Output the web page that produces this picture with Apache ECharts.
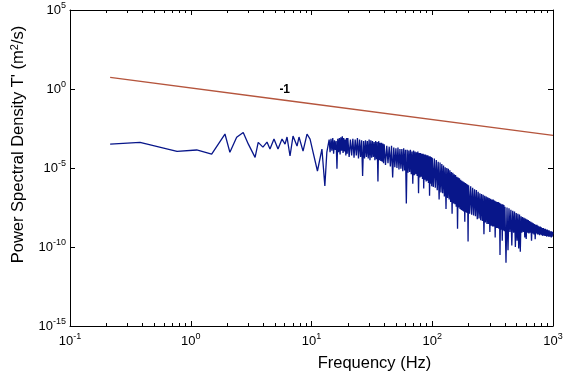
<!DOCTYPE html>
<html>
<head>
<meta charset="utf-8">
<script src="https://cdn.jsdelivr.net/npm/echarts@6/dist/echarts.min.js"></script>
<style>
  html, body { margin: 0; padding: 0; background: #ffffff; }
  #chart { width: 566px; height: 377px; }
</style>
</head>
<body>
<div id="chart"></div>
<script>
// Spectrum samples as [frequency (Hz), log10 PSD], split by frequency range
const specBelow14 = [
  [0.215, -3.49], [0.275, -3.44], [0.38, -3.38], [0.77, -3.95], [1.12, -3.86], [1.49, -4.12],
  [1.92, -2.85], [2.11, -4.01], [2.40, -3.06], [2.72, -2.75], [3.0, -3.49], [3.41, -4.33],
  [3.62, -3.38], [3.96, -3.68], [4.28, -3.36], [4.53, -3.80], [4.89, -3.17], [5.28, -3.80],
  [5.70, -3.17], [6.04, -3.49], [6.27, -3.04], [6.64, -4.24], [7.03, -2.98], [7.59, -3.61],
  [7.88, -3.04], [8.51, -3.93], [9.18, -2.85], [9.73, -3.17], [10.3, -3.99], [11.2, -5.19],
  [12.2, -3.80], [12.9, -6.14], [13.4, -3.99]
];
const spec14to20 = [
  [14, -3.2], [14.25, -4.0], [14.5, -3.15], [14.75, -3.9], [15, -3.1], [15.25, -4.1],
  [15.5, -3.25], [15.75, -3.85], [16, -3.3], [16.25, -5.05], [16.5, -3.15], [16.75, -4.0],
  [17, -3.1], [17.25, -4.15], [17.5, -3.05], [17.75, -3.9], [18, -3.0], [18.25, -4.05],
  [18.5, -3.1], [18.75, -3.95], [19, -3.2], [19.25, -4.2], [19.5, -3.1], [19.75, -4.1]
];
const spec20to40 = [
  [20, -3.1], [20.5, -4.3], [21, -3.2], [21.5, -4.2], [22, -3.15], [22.5, -4.35], [23, -3.2], [23.5, -4.2],
  [24, -3.1], [24.5, -4.4], [25, -3.2], [25.5, -4.3], [26, -3.25], [26.5, -5.5], [27, -3.3], [27.5, -4.4],
  [28, -3.25], [28.5, -4.3], [29, -3.3], [29.5, -4.4], [30, -3.2], [30.5, -4.5], [31, -3.25], [31.5, -4.35],
  [32, -3.3], [32.5, -4.3], [33, -3.35], [33.5, -4.5], [34, -3.3], [34.5, -4.45], [35, -3.35], [35.5, -5.85],
  [36, -3.3], [36.5, -4.5], [37, -3.4], [37.5, -4.55], [38, -3.4], [38.5, -4.6], [39, -3.45], [39.5, -4.7]
];
const spec40to100 = [
  [40, -3.5], [41, -4.8], [42, -3.6], [43, -4.7], [44, -3.65], [45, -4.9], [46, -3.6], [47, -5.6],
  [48, -3.7], [49, -4.95], [50, -3.75], [51, -5.0], [52, -3.7], [53, -5.1], [54, -3.8], [55, -5.05],
  [56, -3.8], [57, -5.2], [58, -3.75], [59, -5.15], [60, -3.85], [61, -7.25], [62, -3.85], [63, -5.3],
  [64, -3.9], [65, -5.25], [66, -3.85], [67, -5.4], [68, -3.95], [69, -6.0], [70, -3.9], [71, -5.45],
  [72, -3.95], [73, -5.4], [74, -4.0], [75, -5.5], [76, -3.95], [77, -6.6], [78, -4.05], [79, -5.6],
  [80, -4.05], [81, -5.55], [82, -4.1], [83, -5.7], [84, -4.1], [85, -6.3], [86, -4.15], [87, -5.75],
  [88, -4.15], [89, -5.85], [90, -4.2], [91, -5.8], [92, -4.2], [93, -5.95], [94, -4.25], [95, -6.75],
  [96, -4.25], [97, -6.0], [98, -4.3], [99, -6.15]
];
const spec100to200 = [
  [100, -4.35], [102, -6.2], [104, -4.4], [106, -6.25], [108, -4.5], [110, -6.4], [112, -4.6], [114, -7.0],
  [116, -4.65], [118, -6.55], [120, -4.75], [122, -6.6], [124, -4.85], [126, -6.8], [128, -4.95], [130, -7.6],
  [132, -5.0], [134, -6.9], [136, -5.05], [138, -7.0], [140, -5.15], [142, -7.15], [144, -5.25], [146, -7.9],
  [148, -5.3], [150, -7.25], [152, -5.4], [154, -7.3], [156, -5.45], [158, -7.45], [160, -5.55], [162, -8.85],
  [164, -5.6], [166, -7.5], [168, -5.65], [170, -7.6], [172, -5.75], [174, -7.65], [176, -5.8], [178, -7.7],
  [180, -5.85], [182, -7.75], [184, -5.9], [186, -8.4], [188, -5.95], [190, -7.8], [192, -6.0], [194, -7.85],
  [196, -6.05], [198, -9.65]
];
const spec200to400 = [
  [200, -6.1], [204, -7.9], [208, -6.15], [212, -7.95], [216, -6.25], [220, -8.0], [224, -6.35], [228, -8.05],
  [232, -6.4], [236, -8.25], [240, -6.5], [244, -8.2], [248, -6.6], [252, -8.3], [256, -6.65], [260, -8.35],
  [264, -6.7], [268, -9.2], [272, -6.75], [276, -8.45], [280, -6.8], [284, -8.55], [288, -6.85], [292, -8.55],
  [296, -6.9], [300, -9.05], [304, -6.95], [308, -8.65], [312, -7.0], [316, -8.7], [320, -7.0], [324, -8.7],
  [328, -7.05], [332, -9.4], [336, -7.1], [340, -8.8], [344, -7.15], [348, -8.8], [352, -7.15], [356, -8.85],
  [360, -7.2], [364, -10.5], [368, -7.25], [372, -8.9], [376, -7.3], [380, -9.6], [384, -7.3], [388, -8.95],
  [392, -7.35], [396, -9.0]
];
const spec400to1000 = [
  [400, -7.45], [408, -11.0], [416, -7.5], [424, -10.2], [432, -7.55], [440, -9.05], [448, -7.65], [456, -9.9],
  [464, -7.7], [472, -9.1], [480, -7.75], [488, -10.0], [496, -7.85], [504, -9.6], [512, -7.9], [520, -10.1],
  [528, -7.95], [536, -10.3], [544, -8.05], [552, -9.1], [560, -8.1], [568, -9.05], [576, -8.15], [584, -9.4],
  [592, -8.2], [600, -9.5], [608, -8.25], [616, -9.1], [624, -8.3], [632, -9.15], [640, -8.35], [648, -9.1],
  [656, -8.4], [664, -9.6], [672, -8.45], [680, -9.15], [688, -8.5], [696, -9.2], [704, -8.55], [712, -9.5],
  [720, -8.6], [728, -9.15], [736, -8.6], [744, -9.2], [752, -8.65], [760, -9.2], [768, -8.7], [776, -9.25],
  [784, -8.7], [792, -9.2], [800, -8.75], [808, -9.25], [816, -8.8], [824, -9.3], [832, -8.8], [840, -9.25],
  [848, -8.85], [856, -9.3], [864, -8.85], [872, -9.3], [880, -8.9], [888, -9.35], [896, -8.9], [904, -9.3],
  [912, -8.95], [920, -9.35], [928, -8.95], [936, -9.35], [944, -9.0], [952, -9.35], [960, -9.0], [968, -9.4],
  [976, -9.0], [984, -9.35], [992, -9.05], [1000, -9.2]
];

// Slope -1 reference line
const refFreq = [0.215, 6, 1000];
const refPsd = [5.44, 0.195, 0.00117];
const refLabelIndex = 1;
const refLabel = '-1';

// Axis decades (powers of ten)
const xTickExp = [-1, 0, 1, 2, 3];
const yTickExp = [-15, -10, -5, 0, 5];
const xMinorTicks = [0.2, 0.3, 0.4, 0.5, 0.6, 0.7, 0.8, 0.9,
  2, 3, 4, 5, 6, 7, 8, 9, 20, 30, 40, 50, 60, 70, 80, 90,
  200, 300, 400, 500, 600, 700, 800, 900];

const FONT = 'Liberation Sans, Arial, Helvetica, sans-serif';

const spectrum = [].concat(specBelow14, spec14to20, spec20to40, spec40to100,
  spec100to200, spec200to400, spec400to1000).map(p => [p[0], Math.pow(10, p[1])]);

const refData = refFreq.map((f, i) => {
  const item = { value: [f, refPsd[i]] };
  if (i === refLabelIndex) {
    item.label = {
      show: true, formatter: refLabel, position: 'top', distance: 5,
      color: '#000', fontFamily: FONT, fontSize: 12, fontWeight: 'bold'
    };
  }
  return item;
});

const powLabelRich = {
  b: { fontSize: 13, fontFamily: FONT, color: '#000', verticalAlign: 'bottom', lineHeight: 14 },
  s: { fontSize: 9, fontFamily: FONT, color: '#000', verticalAlign: 'bottom', lineHeight: 10, padding: [0, 0, 7, 0] }
};
const powLabel = v => '{b|10}{s|' + Math.round(Math.log10(v)) + '}';

const axisLineStyle = { show: true, onZero: false, lineStyle: { color: '#000', width: 1 } };

const xMin = Math.pow(10, xTickExp[0]);
const xMax = Math.pow(10, xTickExp[xTickExp.length - 1]);
const yMin = Math.pow(10, yTickExp[0]);
const yMax = Math.pow(10, yTickExp[yTickExp.length - 1]);
const yStep = Math.pow(10, yTickExp[1] - yTickExp[0]);

// Log-decade minor ticks, placed on a linear axis that spans the decade exponents
const minorAxis = pos => ({
  type: 'value', position: pos, min: xTickExp[0], max: xTickExp[xTickExp.length - 1],
  axisLine: { show: false, onZero: false },
  axisTick: { show: true, inside: true, length: 3, lineStyle: { color: '#000' },
    customValues: xMinorTicks.map(v => Math.log10(v)) },
  axisLabel: { show: false },
  splitLine: { show: false }
});

const chart = echarts.init(document.getElementById('chart'), null, { renderer: 'canvas' });
chart.setOption({
  animation: false,
  backgroundColor: '#ffffff',
  grid: { left: 70, top: 10, width: 483, height: 317, containLabel: false },
  xAxis: [
    {
      type: 'log', logBase: 10, min: xMin, max: xMax, position: 'bottom',
      axisLine: axisLineStyle,
      axisTick: { inside: true, length: 5, lineStyle: { color: '#000' } },
      axisLabel: { formatter: powLabel, rich: powLabelRich, margin: 8 },
      splitLine: { show: false },
      name: 'Frequency (Hz)', nameLocation: 'middle', nameGap: 29,
      nameTextStyle: { fontFamily: FONT, fontSize: 16.5, color: '#000', padding: [0, 0, 0, 126] }
    },
    {
      type: 'log', logBase: 10, min: xMin, max: xMax, position: 'top',
      axisLine: axisLineStyle,
      axisTick: { inside: true, length: 5, lineStyle: { color: '#000' } },
      axisLabel: { show: false },
      splitLine: { show: false }
    },
    minorAxis('bottom'),
    minorAxis('top')
  ],
  yAxis: [
    {
      type: 'log', logBase: yStep, min: yMin, max: yMax, position: 'left',
      axisLine: axisLineStyle,
      axisTick: { inside: true, length: 5, lineStyle: { color: '#000' } },
      axisLabel: { formatter: powLabel, rich: powLabelRich, margin: 4 },
      splitLine: { show: false },
      name: "{n|Power Spectral Density T' (m}{s|2}{n|/s)}",
      nameLocation: 'middle', nameGap: 43, nameRotate: 90,
      nameTextStyle: {
        padding: [0, 0, 0, 47],
        rich: {
          n: { fontFamily: FONT, fontSize: 16.5, color: '#000', verticalAlign: 'bottom', lineHeight: 17 },
          s: { fontFamily: FONT, fontSize: 11, color: '#000', verticalAlign: 'bottom', lineHeight: 12, padding: [0, 0, 7, 0] }
        }
      }
    },
    {
      type: 'log', logBase: yStep, min: yMin, max: yMax, position: 'right',
      axisLine: axisLineStyle,
      axisTick: { inside: true, length: 5, lineStyle: { color: '#000' } },
      axisLabel: { show: false },
      splitLine: { show: false }
    }
  ],
  series: [
    {
      name: 'PSD', type: 'line', xAxisIndex: 0, yAxisIndex: 0,
      data: spectrum, symbol: 'none', showSymbol: false,
      lineStyle: { color: '#08168a', width: 1.3 },
      z: 2
    },
    {
      name: 'slope', type: 'line', xAxisIndex: 0, yAxisIndex: 0,
      data: refData, symbol: 'circle', symbolSize: 0, showSymbol: true,
      lineStyle: { color: '#b5553d', width: 1.4 },
      itemStyle: { color: '#b5553d' },
      z: 3
    }
  ]
});
</script>
</body>
</html>
